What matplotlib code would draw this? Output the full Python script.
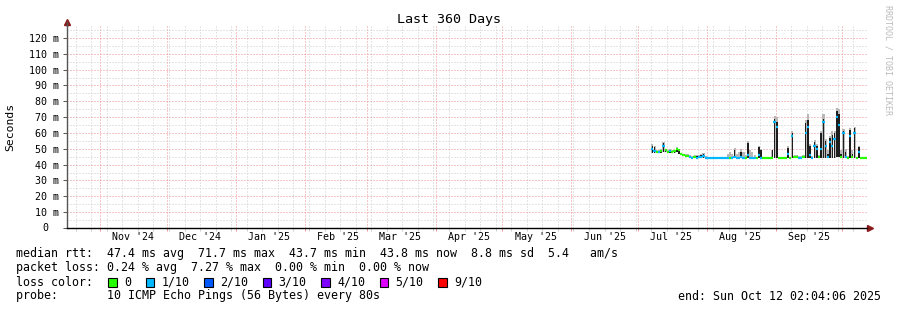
import pandas as pd
import matplotlib
matplotlib.use('Agg')
import matplotlib.pyplot as plt
import matplotlib.dates as mdates
from matplotlib.patches import Rectangle

plt.rcParams['font.family'] = ['DejaVu Sans Mono']

W, H = 897, 310

# time window of the graph
start = pd.Timestamp('2024-10-17 02:04:06')
end = pd.Timestamp('2025-10-12 02:04:06')

# one consolidated sample per day, starting 2025-07-07
first_sample = '2025-07-07 12:00'
median_ms = [50, 48.5, 48, 48, 48.5, 52, 49, 48, 48.5, 48, 48.5, 50, 49, 46.5, 46, 45.5,
             45.5, 45, 44.5, 45, 44.5, 45, 45, 45.5, 44.5, 44, 44, 44, 44, 44, 44, 44,
             44, 44, 44, 44, 44, 45, 44, 44, 45, 44, 44, 46, 44, 44, 44, 44,
             46, 44, 44, 44, 44, 44, 44, 67, 64, 44, 44, 44, 44, 47, 44, 58,
             45, 45, 44.5, 44.5, 45, 60, 64, 46, 44.5, 52, 50, 45, 50, 67, 52, 45,
             54, 52, 56, 70, 65, 45, 60, 45, 44.5, 58, 45, 60, 44, 48, 44, 44, 44, 44]
loss_tenths = [1, 1, 0, 1, 0, 1, 0, 0, 1, 0, 0, 0, 0, 0, 0, 0,
               0, 1, 1, 0, 1, 1, 1, 1, 1, 1, 1, 1, 1, 1, 1, 1,
               1, 1, 1, 0, 1, 1, 1, 1, 1, 1, 0, 1, 1, 1, 1, 0,
               1, 1, 0, 0, 0, 0, 0, 1, 1, 0, 0, 0, 0, 1, 0, 1,
               0, 0, 1, 1, 0, 1, 1, 1, 1, 1, 1, 0, 1, 1, 1, 1,
               1, 1, 1, 1, 1, 0, 1, 1, 0, 1, 0, 1, 0, 1, 0, 0, 0, 0]
smoke_lo = [47.5, 47.5, 47.5, 47.5, 47.5, 48, 48, 47.5, 47.5, 47.5, 47.5, 48, 47, 46, 45.5, 45,
            45, 44.5, 44, 44.5, 44, 44.5, 44.5, 44.5, 44, 43.8, 43.8, 43.8, 43.8, 43.8, 43.8, 43.8,
            43.8, 43.8, 43.8, 43.8, 43.8, 44, 43.8, 43.8, 44, 43.8, 43.8, 44, 43.8, 43.8, 43.8, 43.8,
            44, 43.8, 43.8, 43.8, 43.8, 43.8, 43.8, 44, 44, 43.8, 43.8, 43.8, 43.8, 44, 43.8, 44,
            44, 44, 44, 44, 44, 44, 44.5, 44, 44, 44, 44, 44, 44, 44.5, 44, 44,
            44, 44, 44, 45, 45, 44, 44, 44, 44, 44, 44, 44, 43.8, 44, 43.8, 43.8, 43.8, 43.8]
smoke_core = [52, 51, 48.5, 48.5, 49, 53.5, 49.5, 48.5, 49, 48.5, 49, 50.5, 49.5, 47, 46.5, 46,
              46, 45.5, 45, 45.5, 45.5, 45.5, 46, 47, 45, 44.5, 44.5, 44.5, 44.5, 44.5, 44.5, 44.5,
              44.5, 44.5, 44.5, 44.5, 44.5, 49.5, 44.5, 45, 48, 45, 44.5, 53.5, 45, 44.5, 44.5, 44.5,
              51, 49, 44.5, 44.5, 44.5, 44.5, 49, 69, 67, 44.5, 44.5, 44.5, 44.5, 50.5, 44.5, 60,
              45.5, 45.5, 45, 45, 45.5, 66, 68, 52, 45, 54.5, 52, 45.5, 60, 69, 55, 47,
              57, 59, 60, 74, 72, 46.5, 61.5, 48, 45, 62, 47, 63, 44.5, 51, 44.5, 44.5, 44.5, 44.5]
smoke_haze = [53, 52, 49, 49, 50, 54.5, 50, 49, 50, 49, 49.5, 51, 50, 47.5, 47, 46.5,
              46.5, 46, 45.5, 46, 46, 46, 46.5, 47.5, 45.5, 45, 45, 45, 45, 45, 45, 45,
              45, 45, 47, 48, 47, 50.5, 47, 48, 50, 48, 46, 55, 49, 48, 46, 45,
              52, 50, 45, 45, 45, 45, 49.5, 71, 70, 45, 45, 45, 45, 51.5, 45, 61,
              46, 46, 45.5, 45.5, 46, 68, 72, 53, 45.5, 55.5, 53, 46, 61, 72, 56, 49,
              58, 61, 61, 76, 75, 49, 62.5, 50, 45.5, 63, 49, 64, 45, 51.5, 45, 45, 45, 45]

loss_colors = {0: '#26ff00', 1: '#00b8ff', 2: '#0059ff', 3: '#5e00ff',
               4: '#7e00ff', 5: '#dd00ff', 9: '#ff0000'}
loss_labels = [(0, '0'), (1, '1/10'), (2, '2/10'), (3, '3/10'),
               (4, '4/10'), (5, '5/10'), (9, '9/10')]

fig = plt.figure(figsize=(W / 100, H / 100), dpi=100)
ax = fig.add_axes([67 / W, 82 / H, 800 / W, 201.9 / H])

days = mdates.date2num(pd.date_range(first_sample, periods=len(median_ms), freq='D'))
core_h = [c - l for c, l in zip(smoke_core, smoke_lo)]
haze_h = [h - l for h, l in zip(smoke_haze, smoke_lo)]

# smoke, then the median line coloured by loss
ax.bar(days, haze_h, bottom=smoke_lo, width=0.95, color='#b8b8b8', linewidth=0, zorder=2)
ax.bar(days, core_h, bottom=smoke_lo, width=0.7, color='#1e1e1e', linewidth=0, zorder=3)
ax.hlines(median_ms, days - 0.5, days + 0.5,
          colors=[loss_colors[l] for l in loss_tenths], linewidth=1.6, zorder=4)

# x axis: month lines red, weekly lines gray
ax.set_xlim(mdates.date2num(start), mdates.date2num(end))
months = pd.date_range('2024-11-01', '2025-10-01', freq='MS')
weeks = pd.date_range('2024-10-21', '2025-10-06', freq='W-MON')
ax.set_xticks(mdates.date2num(months))
ax.set_xticks(mdates.date2num(weeks), minor=True)
ax.set_xticklabels([])
for m in months:
    mid = m + pd.Timedelta(days=15)
    if mid > end:
        continue
    ax.text(mdates.date2num(mid), -0.045, m.strftime("%b '%y"),
            transform=ax.get_xaxis_transform(), ha='center', va='center', fontsize=7.2)

# y axis in ms, labelled as "m"
ax.set_ylim(0, 127.5)
ax.set_yticks(range(0, 130, 10))
ax.set_yticks(range(5, 130, 10), minor=True)
ax.set_yticklabels([''] + [f'{v} m' for v in range(10, 130, 10)], fontsize=7.2)
ax.annotate('0', xy=(0, 0), xycoords='axes fraction', xytext=(-13.5, 0),
            textcoords='offset points', ha='right', va='center', fontsize=7.2)

dot = (0, (1, 2))
ax.grid(which='minor', color='#cccccc', linestyle=dot, linewidth=0.72)
ax.grid(which='major', color='#f09090', linestyle=dot, linewidth=0.72)
ax.set_axisbelow(True)
ax.tick_params(axis='x', which='both', length=2, width=0.7, pad=1)
ax.tick_params(axis='x', which='major', color='#f09090')
ax.tick_params(axis='x', which='minor', color='#cccccc')
ax.tick_params(axis='y', which='major', length=3, width=0.7, pad=3, color='#555555')
ax.tick_params(axis='y', which='minor', length=0)

for s in ['top', 'right']:
    ax.spines[s].set_visible(False)
ax.spines['bottom'].set_color('#000000')
ax.spines['left'].set_color('#555555')
ax.spines['bottom'].set_linewidth(1.0)
ax.spines['left'].set_linewidth(1.0)
ax.plot([1.004], [0], marker='>', markersize=4, color='#8b1a1a', transform=ax.transAxes,
        clip_on=False)
ax.plot([0], [1.02], marker='^', markersize=4, color='#8b1a1a', transform=ax.transAxes,
        clip_on=False)
ax.plot([0, 0], [1.0, 1.02], color='#555555', lw=1.0, transform=ax.transAxes, clip_on=False)

# titles
fig.text(0.5, 1 - 19 / H, 'Last 360 Days', ha='center', va='center', fontsize=9.6)
fig.text(10 / W, 1 - 127 / H, 'Seconds', rotation=90, ha='center', va='center', fontsize=8.2)
fig.text(888 / W, 1 - 5 / H, 'RRDTOOL / TOBI OETIKER', rotation=270, ha='center', va='top',
         fontsize=6.0, color='#bbbbbb')

# legend block
fs = 8.4
fig.text(16 / W, 1 - 254 / H,
         'median rtt:  47.4 ms avg  71.7 ms max  43.7 ms min  43.8 ms now  8.8 ms sd  5.4   am/s',
         va='center', fontsize=fs)
fig.text(16 / W, 1 - 268 / H,
         'packet loss: 0.24 % avg  7.27 % max  0.00 % min  0.00 % now',
         va='center', fontsize=fs)
fig.text(16 / W, 1 - 282 / H, 'loss color:', va='center', fontsize=fs)
bx = 108
for level, lab in loss_labels:
    fig.add_artist(Rectangle((bx / W, 1 - 286.5 / H), 8.5 / W, 8.5 / H,
                             transform=fig.transFigure, facecolor=loss_colors[level],
                             edgecolor='#000000', linewidth=0.8))
    fig.text((bx + 16) / W, 1 - 282 / H, lab, va='center', fontsize=fs)
    bx = bx + 16 + len(lab) * 7 + 14.5
fig.text(16 / W, 1 - 296 / H, 'probe:       10 ICMP Echo Pings (56 Bytes) every 80s',
         va='center', fontsize=fs)
fig.text(881 / W, 1 - 296 / H, 'end: Sun Oct 12 02:04:06 2025', ha='right', va='center',
         fontsize=fs)

fig.savefig('out.png', dpi=100)
